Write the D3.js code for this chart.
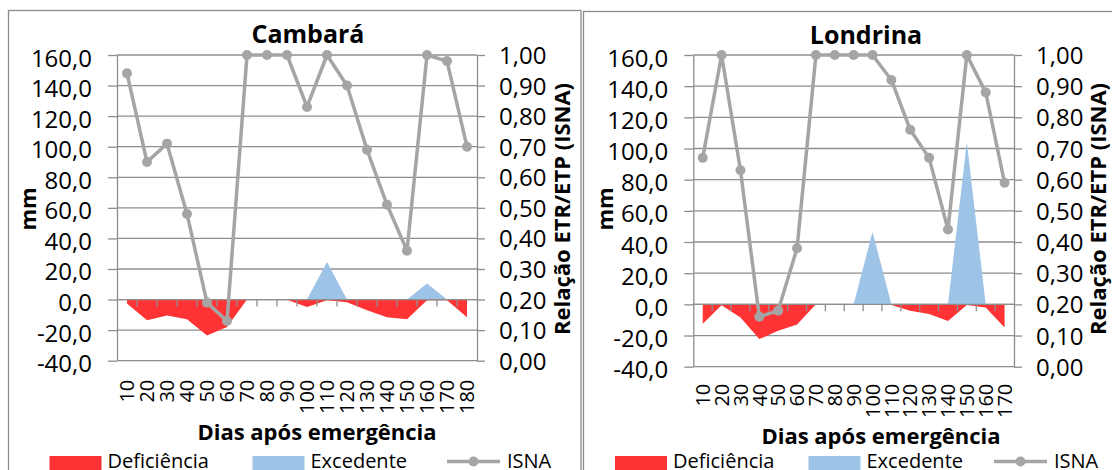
<!DOCTYPE html>
<html><head><meta charset="utf-8">
<script src="https://cdn.jsdelivr.net/npm/d3@7"></script>
<style>
html,body{margin:0;padding:0;background:#fff;overflow:hidden}
svg{display:block}
text{font-family:"Open Sans",sans-serif;fill:#000}
</style>
</head><body>
<svg id="c" width="1112" height="470"></svg>
<script>
// ---------- DATA ----------
const categoriesCambara = ["10","20","30","40","50","60","70","80","90","100","110","120","130","140","150","160","170","180"];
const deficienciaCambara = [-2.6,-13.5,-10.5,-12.8,-23.5,-18,0,-0.2,-0.2,-4.8,-0.4,-1.7,-7,-11.5,-12.8,-0.4,-0.4,-11.5];
const excedenteCambara   = [0,0,0,0,0,0,0,0,0,0,24.5,0,0,0,0,10.5,0,0];
const isnaCambara        = [0.94,0.65,0.71,0.48,0.19,0.13,1,1,1,0.83,1,0.90,0.69,0.51,0.36,1,0.98,0.70];

const categoriesLondrina = ["10","20","30","40","50","60","70","80","90","100","110","120","130","140","150","160","170"];
const deficienciaLondrina = [-12.4,-0.5,-8.5,-22.3,-17,-13,0,0,0,0,-0.4,-4.1,-6.2,-10.7,-0.4,-2,-14.8];
const excedenteLondrina   = [0,0,0,0,0,0,0,0,0,46.5,0,0,0,0,104,0,0];
const isnaLondrina        = [0.67,1,0.63,0.16,0.18,0.38,1,1,1,1,0.92,0.76,0.67,0.44,1,0.88,0.59];

const mmTicks   = [-40,-20,0,20,40,60,80,100,120,140,160];
const isnaTicks = [0,0.1,0.2,0.3,0.4,0.5,0.6,0.7,0.8,0.9,1.0];

const titles = ["Cambará","Londrina"];
const xTitle = "Dias após emergência";
const yLeftTitle = "mm";
const yRightTitle = "Relação ETR/ETP (ISNA)";
const legendLabels = ["Deficiência","Excedente","ISNA"];

// ---------- STYLE ----------
const C_DEF = "#ff3333", C_EXC = "#9dc3e6", C_LINE = "#a5a5a5", C_GRID = "#8e8e8e";
const locale = d3.formatLocale({decimal:",",thousands:".",grouping:[3],currency:["R$",""],minus:"-"});
const fmt1 = locale.format(".1f"), fmt2 = locale.format(".2f");

const svg = d3.select("#c");
svg.append("rect").attr("width",1112).attr("height",470).attr("fill","#fff");

function drawPanel(cfg, cats, def, exc, isna, title) {
  const g = svg.append("g");
  g.append("rect").attr("x",cfg.bx).attr("y",cfg.by).attr("width",cfg.bw).attr("height",520)
    .attr("fill","#fff").attr("stroke","#8c8c8c").attr("stroke-width",1.3);

  const x = d3.scaleBand().domain(cats).range([cfg.left,cfg.right]);
  const yL = d3.scaleLinear().domain([-40,160]).range([cfg.bottom,cfg.top]);
  const yR = d3.scaleLinear().domain([0,1]).range([cfg.bottom,cfg.top]);
  const cx = c => x(c) + x.bandwidth()/2;

  // gridlines
  g.append("g").selectAll("line").data(mmTicks).join("line")
    .attr("x1",cfg.left).attr("x2",cfg.right)
    .attr("y1",d=>yL(d)).attr("y2",d=>yL(d))
    .attr("stroke",C_GRID).attr("stroke-width",1.3);

  // left axis
  const ax = g.append("g").attr("transform",`translate(${cfg.left},0)`)
    .call(d3.axisLeft(yL).tickValues(mmTicks).tickFormat(fmt1).tickSizeInner(9).tickSizeOuter(0).tickPadding(16));
  ax.selectAll("path,line").attr("stroke",C_GRID).attr("stroke-width",1.3);
  ax.selectAll("text").attr("font-size",24).attr("dy","11px").attr("font-family","Open Sans");

  // right axis
  const ar = g.append("g").attr("transform",`translate(${cfg.right},0)`)
    .call(d3.axisRight(yR).tickValues(isnaTicks).tickFormat(fmt2).tickSizeInner(8).tickSizeOuter(0).tickPadding(14));
  ar.selectAll("path,line").attr("stroke",C_GRID).attr("stroke-width",1.3);
  ar.selectAll("text").attr("font-size",24).attr("dy","8.5px").attr("font-family","Open Sans");

  // areas
  const idx = d3.range(cats.length);
  const area = vals => d3.area().x(i=>cx(cats[i])).y0(yL(0)).y1(i=>yL(vals[i]))(idx);
  g.append("path").attr("d",area(def)).attr("fill",C_DEF);
  g.append("path").attr("d",area(exc)).attr("fill",C_EXC);

  // category axis on zero line
  const ab = g.append("g").attr("transform",`translate(0,${yL(0)})`);
  ab.append("line").attr("x1",cfg.left).attr("x2",cfg.right).attr("stroke",C_GRID).attr("stroke-width",1.3);
  ab.selectAll("line.t").data(cats.slice(1)).join("line").attr("class","t")
    .attr("x1",d=>x(d)).attr("x2",d=>x(d)).attr("y1",0).attr("y2",7)
    .attr("stroke",C_GRID).attr("stroke-width",1.3);

  // category labels below plot
  const al = g.append("g").attr("transform",`translate(0,${cfg.bottom})`)
    .call(d3.axisBottom(x).tickSize(0));
  al.select(".domain").remove();
  al.selectAll("text").attr("font-size",cfg.xfs).attr("font-family","Open Sans")
    .attr("text-anchor","end").attr("transform","rotate(-90)")
    .attr("x",-cfg.xlab).attr("y",cfg.xfs*0.36).attr("dy",0);

  // ISNA line
  const line = d3.line().x(i=>cx(cats[i])).y(i=>yR(isna[i]));
  g.append("path").attr("d",line(idx)).attr("fill","none").attr("stroke",C_LINE).attr("stroke-width",3.5).attr("stroke-linejoin","round");
  g.append("g").selectAll("circle").data(idx).join("circle")
    .attr("cx",i=>cx(cats[i])).attr("cy",i=>yR(isna[i])).attr("r",5).attr("fill",C_LINE);

  // titles
  g.append("text").attr("x",cfg.tx).attr("y",cfg.ty).attr("text-anchor","middle")
    .attr("font-size",25).attr("font-weight","bold").text(title);
  g.append("text").attr("x",cfg.xtx).attr("y",cfg.xty).attr("text-anchor","middle")
    .attr("font-size",22).attr("font-weight","bold").text(xTitle);
  g.append("text").attr("transform",`translate(${cfg.mmx},209) rotate(-90)`).attr("text-anchor","middle")
    .attr("font-size",22).attr("font-weight","bold").text(yLeftTitle);
  g.append("text").attr("transform",`translate(${cfg.rtx},209) rotate(-90)`).attr("text-anchor","middle")
    .attr("font-size",22).attr("font-weight","bold").text(yRightTitle);

  // legend
  const L = cfg.leg;
  g.append("rect").attr("x",L[0]).attr("y",456).attr("width",52).attr("height",20).attr("fill",C_DEF);
  g.append("text").attr("x",L[0]+58).attr("y",468).attr("font-size",20).text(legendLabels[0]);
  g.append("rect").attr("x",L[1]).attr("y",456).attr("width",52).attr("height",20).attr("fill",C_EXC);
  g.append("text").attr("x",L[1]+58).attr("y",468).attr("font-size",20).text(legendLabels[1]);
  g.append("line").attr("x1",L[2]).attr("x2",L[2]+53).attr("y1",461.5).attr("y2",461.5)
    .attr("stroke",C_LINE).attr("stroke-width",3.5);
  g.append("circle").attr("cx",L[2]+26.5).attr("cy",461.5).attr("r",5).attr("fill",C_LINE);
  g.append("text").attr("x",L[2]+60).attr("y",468).attr("font-size",20).text(legendLabels[2]);
}

drawPanel({bx:8.5,by:10.5,bw:572.5,left:117,right:477,top:55,bottom:360.7,xfs:20,xlab:19,
  tx:308,ty:43,xtx:317,xty:440,mmx:36,rtx:570,leg:[49.5,252.5,447]},
  categoriesCambara,deficienciaCambara,excedenteCambara,isnaCambara,titles[0]);
drawPanel({bx:583.5,by:11.5,bw:560,left:693.3,right:1014,top:55,bottom:366.7,xfs:20,xlab:17,
  tx:866,ty:44,xtx:881,xty:444,mmx:613,rtx:1106,leg:[615,808.5,994]},
  categoriesLondrina,deficienciaLondrina,excedenteLondrina,isnaLondrina,titles[1]);
</script>
</body></html>
